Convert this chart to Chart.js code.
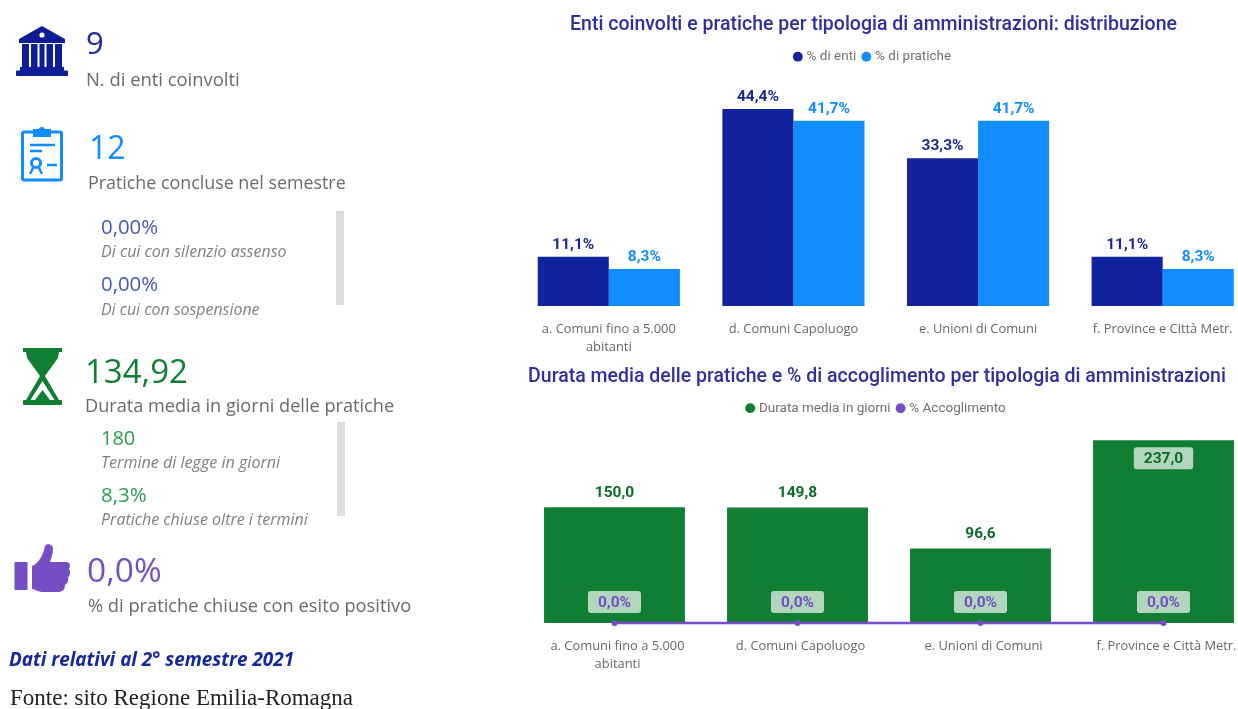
<!DOCTYPE html>
<html lang="it"><head><meta charset="utf-8">
<script src="https://cdn.jsdelivr.net/npm/chart.js@4/dist/chart.umd.min.js"></script>
<style>
html,body{margin:0;padding:0;background:#fff;width:1238px;height:709px;overflow:hidden}
#page{position:relative;width:1238px;height:709px;overflow:hidden;filter:blur(.45px)}
.t{position:absolute;white-space:nowrap;transform:translateY(-50%);font-family:"Open Sans",sans-serif;line-height:1.2}
.bar{position:absolute;background:#dcdcdc}
svg{position:absolute}
canvas{position:absolute}
</style></head><body><div id="page">
<svg style="left:16px;top:26px" width="52" height="50" viewBox="0 0 52 50" fill="#0f1e96">
<path d="M26 0 L49 13 V17 H3 V13 Z"/><circle cx="26" cy="9" r="2.6" fill="#fff"/>
<rect x="6" y="18" width="7" height="24"/><rect x="15" y="18" width="6.5" height="24"/><rect x="23.5" y="18" width="5" height="24"/><rect x="30.5" y="18" width="6.5" height="24"/><rect x="39" y="18" width="7" height="24"/>
<rect x="4" y="41" width="44" height="4"/><rect x="0" y="44.5" width="52" height="5.5" rx="1"/></svg>
<svg style="left:21px;top:126px" width="42" height="56" viewBox="0 0 42 56" fill="none" stroke="#118dff" stroke-width="3">
<rect x="1.5" y="6" width="39" height="48" rx="1.5"/><path d="M13 4 H29 V10 H13 Z" fill="#118dff" stroke-width="2"/><circle cx="21" cy="4" r="3" fill="#118dff" stroke="none"/>
<path d="M9 19 H34 M9 25 H21 M26 39 H36" stroke-width="2.4"/><circle cx="15" cy="37" r="4.6"/><path d="M12 42 L9 48 M18 42 L21 48" stroke-width="2.4"/></svg>
<svg style="left:23px;top:348px" width="39" height="57" viewBox="0 0 39 57" fill="#117f33">
<rect x="0" y="0" width="39" height="4"/><rect x="0" y="52" width="39" height="5" rx="1"/>
<path d="M3 4 H36 L35 10 L22 28 H17 L4 10 Z"/>
<path d="M17 28 L22 28 L36 52 H31.5 L19.5 33 L7.5 52 H3 Z"/>
<path d="M19.5 42 L27 52 H12 Z"/></svg>
<svg style="left:14px;top:544px" width="57" height="50" viewBox="0 0 57 50" fill="#744ec2">
<rect x="0.5" y="18" width="13" height="28" rx="1"/>
<path d="M18 22 C24 20 29 12 31 2 C33 -1 39 0 39 5 C39 10 37 14 36 18 H52 C56 18 57 22 55 25 C57 28 56 32 54 33 C55 37 53 40 51 41 C51 46 48 48 44 48 H28 C24 48 21 45 18 45 Z"/></svg>
<div class="bar" style="left:336px;top:211px;width:8px;height:94px"></div>
<div class="bar" style="left:337px;top:422px;width:8px;height:94px"></div>
<div id="kpi"></div>
<canvas id="c1" style="left:491.5px;top:0" width="763" height="362"></canvas>
<canvas id="c2" style="left:495px;top:352px" width="764" height="327"></canvas>
</div>
<script>
const categories=[["a. Comuni fino a 5.000","abitanti"],"d. Comuni Capoluogo","e. Unioni di Comuni","f. Province e Città Metr."];
const pctEnti=[11.1,44.4,33.3,11.1];
const pctPratiche=[8.3,41.7,41.7,8.3];
const durataMedia=[150.0,149.8,96.6,237.0];
const pctAccoglimento=[0,0,0,0];
const titleTop="Enti coinvolti e pratiche per tipologia di amministrazioni: distribuzione";
const titleBottom="Durata media delle pratiche e % di accoglimento per tipologia di amministrazioni";
// text, x, y-centre, font size, colour, extra style
const kpiTexts=[
["9",86,43,31,"#1f2a9c",""],["N. di enti coinvolti",86,79,18.4,"#6a6a6a",""],
["12",89,147,32,"#118dff",""],["Pratiche concluse nel semestre",88,183,17.85,"#6a6a6a",""],
["0,00%",101,226,20.4,"#4a55b5",""],["Di cui con silenzio assenso",101,252,16,"#808080","font-style:italic"],
["0,00%",101,283,20.4,"#4a55b5",""],["Di cui con sospensione",101,310,15.9,"#808080","font-style:italic"],
["134,92",85,371,33,"#117f33",""],["Durata media in giorni delle pratiche",85,406,18.15,"#6a6a6a",""],
["180",101,438,20,"#2f9a50",""],["Termine di legge in giorni",101,463,16.1,"#808080","font-style:italic"],
["8,3%",101,494,20.5,"#2f9a50",""],["Pratiche chiuse oltre i termini",101,520,16,"#808080","font-style:italic"],
["0,0%",87,569,33.5,"#744ec2",""],["% di pratiche chiuse con esito positivo",88,605,18.3,"#6a6a6a",""],
["Dati relativi al 2° semestre 2021",9,659,18.9,"#1428a0","font-weight:700;font-style:italic"],
["Fonte: sito Regione Emilia-Romagna",10,698,23,"#222","font-family:'Liberation Serif',serif"]];
const host=document.getElementById("kpi");
kpiTexts.forEach(([s,x,y,f,c,e])=>{const d=document.createElement("div");d.className="t";d.textContent=s;
 d.style.cssText=`left:${x}px;top:${y}px;font-size:${f}px;color:${c};${e}`;host.appendChild(d);});

const it=v=>v.toFixed(1).replace(".",",");
const labelPlugin={id:"valueLabels",afterDatasetsDraw(chart,_,o){
 const ctx=chart.ctx;ctx.save();ctx.textAlign="center";ctx.textBaseline="middle";ctx.font="700 15.5px Roboto, sans-serif";
 chart.data.datasets.forEach((ds,i)=>{chart.getDatasetMeta(i).data.forEach((el,j)=>{
  const v=ds.data[j],txt=it(v)+(ds.pct?"%":"");
  const inside=(ds.type==="line")||(o.insideAbove!==undefined&&v>o.insideAbove);
  const y=ds.type==="line"?el.y-21:(inside?el.y+18:el.y-o.gap);
  if(inside){ctx.fillStyle="rgba(255,255,255,.68)";const w=ctx.measureText(txt).width+20;
   ctx.beginPath();ctx.roundRect(el.x-w/2,y-11,w,22,3);ctx.fill();}
  ctx.fillStyle=ds.labelColor;ctx.fillText(txt,el.x,y+1);
 });});ctx.restore();}};
Chart.register(labelPlugin);
const titleFont={family:"Roboto, sans-serif",size:19.5,weight:"500"};
const common=(title,extra)=>({responsive:false,animation:false,
 plugins:{title:{display:true,text:title,color:"#2f2f9e",font:titleFont,padding:{top:extra.tTop,bottom:extra.tBot}},
  legend:{display:true,position:"top",labels:{usePointStyle:true,pointStyle:"circle",boxWidth:4,boxHeight:7,padding:8,color:"#707070",font:{family:"Roboto, sans-serif",size:13.5},sort:(a,b)=>a.datasetIndex-b.datasetIndex}},
  tooltip:{enabled:false},valueLabels:extra.labels},
 scales:{x:{grid:{display:false},border:{display:false},ticks:{color:"#666",maxRotation:0,autoSkip:false,padding:6,labelOffset:extra.labelOffset,font:{family:"'Open Sans',sans-serif",size:12.9,lineHeight:1.4}}},
  y:{min:0,max:extra.max,grid:{display:false},border:{display:false},ticks:{display:false},afterFit(s){s.width=extra.yWidth}}}});
new Chart(document.getElementById("c1"),{type:"bar",data:{labels:categories,datasets:[
 {label:"% di enti",data:pctEnti,backgroundColor:"#12239e",labelColor:"#1a2a90",pct:true,categoryPercentage:.77,barPercentage:1},
 {label:"% di pratiche",data:pctPratiche,backgroundColor:"#118dff",labelColor:"#118dff",pct:true,categoryPercentage:.77,barPercentage:1}]},
 options:common(titleTop,{tTop:13.5,tBot:5,max:52.4,yWidth:24.5,labelOffset:0,labels:{gap:13}})});
new Chart(document.getElementById("c2"),{type:"bar",data:{labels:categories,datasets:[
 {label:"Durata media in giorni",data:durataMedia,backgroundColor:"#117f33",labelColor:"#0d6b2b",pct:false,categoryPercentage:.77,barPercentage:1,order:1},
 {type:"line",label:"% Accoglimento",data:pctAccoglimento,borderColor:"#744ec2",backgroundColor:"#744ec2",borderWidth:2.5,pointRadius:3,pointBackgroundColor:"#744ec2",pointBorderWidth:0,tension:0,labelColor:"#744ec2",pct:true,clip:false,order:0}]},
 options:common(titleBottom,{tTop:13,tBot:5,max:257,yWidth:28,labelOffset:3,labels:{insideAbove:200,gap:15}})});
</script></body></html>
